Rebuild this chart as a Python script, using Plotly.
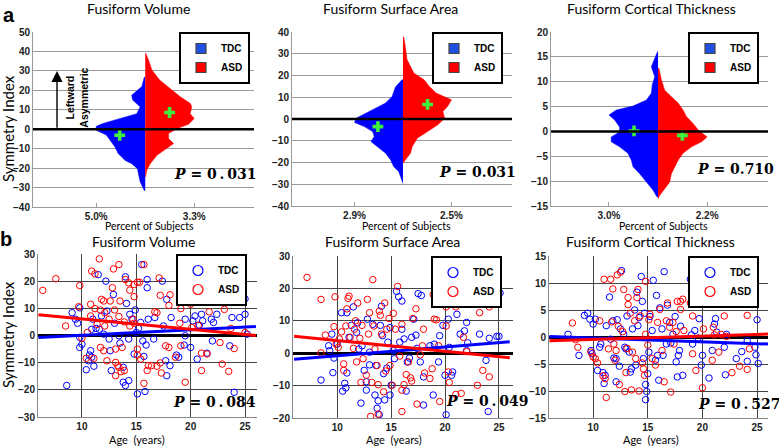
import plotly.graph_objects as go

W, H = 779, 446
BLUE, RED, GREEN = "#0000ff", "#ff0000", "#3cf03c"

####################################################
# panel a : distribution of the symmetry index
titles = ["Fusiform Volume", "Fusiform Surface Area", "Fusiform Cortical Thickness"]
p_top = ["0\u2009.\u2009031", "0.031", "0.710"]
p_bottom = ["0\u2009.\u2009084", "0\u2009.\u2009049", "0\u2009.\u2009527"]

tdc_peak = [5.0, 2.9, 3.0]        # percent of subjects at the widest bin
asd_peak = [3.3, 2.5, 2.2]

# (symmetry index, percent of subjects) along the outline of each half
vol_tdc = [(26.7, 0.1), (22.0, 0.34), (17.5, 1.38), (15.0, 1.28), (11.5, 0.52), (8.0, 0.86),
           (5.5, 2.59), (3.0, 4.31), (1.5, 5.0), (-0.5, 5.0), (-3.0, 3.97), (-6.5, 3.45),
           (-9.0, 3.1), (-12.5, 2.76), (-16.0, 2.07), (-17.7, 1.38), (-20.3, 0.79),
           (-23.0, 0.69), (-27.0, 0.52), (-31.5, 0.1)]
vol_asd = [(39.0, 0.04), (35.6, 0.22), (30.5, 0.45), (25.3, 0.97), (21.5, 1.57), (16.7, 2.36),
           (13.3, 3.03), (11.5, 3.14), (8.0, 3.03), (5.5, 3.3), (2.6, 2.92), (0.3, 2.13),
           (-2.2, 1.57), (-4.8, 1.57), (-7.4, 1.91), (-10.0, 1.46), (-13.4, 0.79),
           (-17.7, 0.34), (-21.0, 0.11), (-24.6, 0.02)]
area_tdc = [(18.0, 0.06), (14.7, 0.45), (10.4, 0.65), (7.3, 1.04), (5.0, 1.63), (2.7, 2.31),
            (0.4, 2.8), (-1.6, 2.9), (-3.5, 2.31), (-5.8, 1.82), (-8.0, 1.72), (-10.4, 1.92),
            (-12.7, 1.53), (-15.7, 1.04), (-18.8, 0.74), (-21.9, 0.55), (-24.2, 0.25),
            (-26.5, 0.16), (-29.6, 0.02)]
area_asd = [(37.7, 0.04), (33.4, 0.12), (27.3, 0.21), (21.1, 0.56), (18.0, 1.09), (15.0, 1.36),
            (11.9, 1.71), (8.8, 2.5), (6.0, 2.32), (3.5, 2.06), (0.4, 2.15), (-2.7, 1.8),
            (-5.8, 1.27), (-8.8, 0.74), (-12.7, 0.48), (-15.7, 0.39), (-18.8, 0.12), (-20.4, 0.04)]
thk_tdc = [(16.1, 0.02), (14.7, 0.2), (13.0, 0.41), (11.0, 0.2), (9.4, 0.35), (7.7, 0.41),
           (6.3, 0.71), (5.1, 1.53), (4.3, 2.55), (3.3, 3.0), (2.3, 2.65), (0.9, 2.35),
           (-0.1, 2.35), (-1.1, 2.86), (-2.1, 2.86), (-3.1, 2.35), (-4.4, 1.84), (-5.8, 1.63),
           (-7.1, 1.53), (-8.5, 1.12), (-10.2, 0.71), (-11.8, 0.31), (-13.2, 0.06)]
thk_asd = [(12.7, 0.04), (10.4, 0.15), (8.3, 0.3), (7.0, 0.6), (5.7, 0.9), (4.3, 1.12),
           (3.0, 1.27), (1.6, 1.57), (0.3, 1.8), (-1.1, 2.2), (-2.1, 1.95), (-3.1, 1.5),
           (-4.4, 1.12), (-5.8, 0.9), (-7.1, 0.75), (-8.5, 0.6), (-10.2, 0.52), (-11.5, 0.3),
           (-12.9, 0.07), (-13.5, 0.01)]

# group means (symmetry index) and where the marker sits (percent)
tdc_mean_si = [-3.1, -3.5, 0.1]
tdc_mean_pct = [2.6, 1.5, 1.47]
asd_mean_si = [8.6, 6.7, -0.8]
asd_mean_pct = [1.64, 1.27, 1.09]

####################################################
# panel b : symmetry index vs age, (age, SI)
vol_tdc_pts = [(8.6, -18.4), (9.1, 8.4), (9.4, 6.0), (9.6, 4.5), (9.8, 10.2), (9.8, -0.7), (9.8, -4.4),
               (10.0, -3.2), (10.4, -12.6), (10.6, -9.3), (10.8, -5.6), (10.9, -8.0), (10.7, -7.2),
               (11.1, -11.3), (10.9, 2.3), (11.0, 6.0), (11.3, 2.6), (11.5, 22.4), (11.6, 2.3),
               (11.8, 7.2), (12.0, 0.5), (12.2, 20.0), (12.3, 9.0), (12.5, -1.3), (12.6, -5.6),
               (12.7, -12.9), (12.9, 15.1), (13.0, 4.5), (13.4, -0.1), (13.5, -2.8), (13.8, -11.7),
               (13.8, -17.2), (14.0, -18.4), (14.1, 11.8), (14.0, 21.6), (14.3, -1.3), (14.3, -16.6),
               (14.4, 7.8), (14.6, 6.0), (14.8, -6.8), (14.9, 9.4), (15.0, 1.1), (15.1, -21.5),
               (15.2, 2.6), (15.4, 4.8), (15.5, 26.1), (15.6, -2.0), (15.7, -7.7), (15.8, -20.6),
               (15.9, -3.5), (16.0, 20.6), (16.0, 17.6), (16.1, 6.0), (16.6, -1.3), (16.7, 6.6),
               (17.4, 20.0), (17.5, 3.5), (17.7, -9.3), (17.8, -14.8), (17.8, 13.3), (18.1, -11.1),
               (18.2, 6.6), (18.7, -7.2), (18.9, -8.0), (19.5, 6.0), (19.5, -0.1), (19.4, -3.5),
               (19.7, 12.7), (20.0, -4.4), (20.2, 5.4), (20.4, 7.2), (20.6, -8.7), (20.8, 3.8),
               (21.0, 7.8), (21.1, 5.4), (21.5, -6.5), (21.9, 6.0), (22.0, -2.0), (22.1, 4.8),
               (22.4, 7.8), (23.6, -3.8), (23.8, 6.6), (24.0, -20.9), (24.5, 6.6), (25.0, 7.8),
               (25.0, 13.5), (25.2, 0.5)]
vol_asd_pts = [(6.4, 16.6), (7.6, 20.9), (8.5, 3.5), (9.8, 18.4), (9.7, 10.6), (10.0, -1.0), (10.9, 23.7),
               (11.2, 22.7), (11.6, 28.2), (10.8, 11.5), (11.2, 9.9), (11.7, 9.4), (11.8, 13.3),
               (12.0, 12.7), (12.1, 8.4), (12.6, 12.7), (12.9, 24.5), (13.4, 26.1), (12.8, 17.6),
               (13.5, 12.7), (14.0, 20.6), (14.3, 19.4), (14.4, 16.7), (14.8, 18.8), (15.1, 19.6),
               (15.3, 19.6), (14.8, 14.3), (15.7, 26.1), (14.7, 6.0), (14.8, 4.5), (14.4, 3.5),
               (13.9, 5.0), (13.4, 7.0), (13.0, 9.4), (12.5, 6.0), (12.1, 3.5), (11.4, 4.1),
               (10.8, 7.2), (10.5, 1.1), (10.4, -8.4), (11.1, -8.4), (11.7, -4.4), (12.0, -5.6),
               (12.3, -9.3), (13.1, -9.9), (13.3, -11.1), (13.4, -11.7), (13.1, -14.8), (13.6, -13.3),
               (13.9, -12.9), (13.1, -5.0), (13.7, -4.4), (15.1, -5.0), (15.4, -8.7), (15.1, -7.2),
               (15.7, -17.6), (16.0, -12.9), (16.1, -11.1), (16.4, -11.1), (16.9, -11.3), (17.2, -10.1),
               (17.3, -13.8), (17.7, -3.8), (18.0, -4.4), (16.9, 8.4), (16.7, 8.7), (17.2, 14.8),
               (17.1, 21.2), (18.0, 11.1), (18.1, 15.0), (18.6, -8.0), (19.1, -3.8), (19.0, 4.5),
               (19.1, 9.9), (19.2, 13.9), (19.1, 27.6), (19.5, -17.2), (20.0, 11.5), (20.1, 2.9),
               (20.7, 3.8), (21.0, -6.5), (21.0, -12.9), (21.2, 13.3), (21.5, -6.8), (21.7, 8.7),
               (22.0, 12.7), (22.7, -2.6), (22.9, -10.5), (23.1, 9.6), (23.5, -13.2), (24.0, -4.8),
               (24.0, 12.7), (23.7, 2.6), (25.0, 1.1)]
area_tdc_pts = [(8.5, -8.3), (9.2, 2.3), (9.3, 0.8), (9.5, 5.9), (9.6, -6.0), (9.7, -1.5), (10.0, 2.8),
                (10.4, 12.5), (10.5, -11.7), (10.7, -9.3), (10.8, -10.7), (10.9, 12.5), (10.9, -6.1),
                (11.1, 4.9), (11.3, 8.6), (11.5, 14.3), (11.8, 6.4), (11.9, 9.4), (12.0, 1.3),
                (12.2, -15.4), (12.3, 2.3), (12.5, -5.3), (12.7, -8.8), (12.7, -11.4), (12.8, 10.5),
                (13.0, -3.6), (13.0, 0.3), (13.3, 8.9), (13.5, -12.9), (13.6, -3.8), (13.7, -17.0),
                (13.8, -14.7), (13.9, -19.0), (14.0, 8.6), (14.1, 14.5), (14.2, 5.4), (14.3, -6.3),
                (14.4, -14.4), (14.6, -4.6), (14.7, 3.4), (14.9, 7.9), (14.9, -12.9), (15.0, -9.9),
                (15.2, 0.8), (15.3, -1.7), (15.5, 19.1), (15.7, 17.4), (15.8, 3.4), (16.0, 16.1),
                (16.0, 7.4), (16.2, 4.4), (16.4, -11.7), (16.5, -2.7), (16.7, -1.5), (16.9, 4.9),
                (17.1, 10.5), (17.3, 5.6), (17.4, 1.5), (17.5, 18.4), (17.7, -2.7), (17.8, 17.8),
                (18.0, -7.3), (18.0, -16.0), (18.6, 2.3), (18.9, -12.9), (19.0, 2.8), (19.4, -2.7),
                (19.5, 5.4), (19.8, 8.6), (20.0, -6.8), (20.1, -19.0), (20.3, 10.5), (20.4, 1.8),
                (20.6, -6.8), (20.7, -5.8), (21.1, 12.0), (21.4, 5.9), (21.8, 6.9), (22.0, 9.5),
                (22.1, 3.2), (22.0, 0.8), (23.2, 5.9), (23.8, -2.2), (24.0, -18.0), (24.1, 4.6),
                (24.8, 5.2), (25.0, 5.2), (25.1, 18.6)]
area_asd_pts = [(7.2, 23.4), (8.5, 16.6), (8.5, 0.1), (8.9, 5.6), (9.7, 8.2), (9.8, 17.4), (9.9, 2.8),
                (10.1, 1.8), (10.2, 4.4), (10.4, 6.6), (10.6, -3.3), (10.6, -5.3), (10.8, 8.4),
                (11.0, 16.9), (11.1, 17.6), (10.9, 13.7), (11.2, 4.9), (11.5, 1.5), (11.6, 7.4),
                (11.7, 10.0), (11.8, -2.7), (11.9, 15.5), (12.1, 4.6), (12.2, -9.0), (12.3, 8.6),
                (12.4, -1.7), (12.7, -6.8), (12.8, 16.6), (12.9, 5.9), (13.0, 12.5), (13.1, -19.5),
                (13.2, -9.0), (13.3, 22.7), (13.4, 8.4), (13.5, 1.3), (13.7, -3.8), (13.8, -9.7),
                (13.8, -18.8), (13.9, 13.0), (14.0, 11.7), (14.1, 5.9), (14.3, -11.9), (14.4, 15.5),
                (14.5, -5.5), (14.6, 7.4), (14.8, 10.7), (14.9, -3.8), (15.1, -9.9), (15.2, 12.3),
                (15.4, 7.4), (15.6, 20.6), (15.8, -0.9), (16.0, -18.0), (16.0, 8.9), (16.0, -11.4),
                (16.2, -9.7), (16.4, -6.6), (16.6, -2.7), (16.8, -7.6), (16.9, -8.6), (17.0, 10.7),
                (17.3, 13.7), (17.4, -15.7), (17.7, -0.5), (17.9, 2.3), (18.0, 7.4), (18.1, -6.1),
                (18.6, -7.8), (18.8, -4.8), (18.9, 18.1), (19.0, 10.5), (19.2, 10.3), (19.5, -14.9),
                (19.4, 2.3), (20.1, 14.3), (20.1, 8.4), (20.3, -5.8), (20.4, -9.0), (21.0, 14.3),
                (21.0, -12.7), (21.5, -12.4), (21.7, 4.9), (22.0, 0.5), (23.0, -9.9), (23.2, 12.5),
                (23.5, -5.3), (24.1, 14.3), (24.1, -7.3)]
thk_tdc_pts = [(7.7, 0.5), (8.7, -3.4), (9.2, 4.0), (9.5, 4.4), (9.7, 3.3), (9.8, -2.5), (9.9, -3.1),
               (10.0, 2.4), (10.2, 3.3), (10.4, -6.2), (10.6, -1.9), (10.7, -1.3), (10.9, -6.6),
               (11.0, -8.6), (11.1, -7.1), (11.2, 2.1), (11.5, 7.4), (11.6, -0.4), (11.8, 3.0),
               (11.9, -3.9), (12.1, -4.0), (12.1, -8.3), (12.2, 3.2), (12.4, -5.4), (12.5, 1.5),
               (12.6, 12.3), (12.8, 0.5), (12.9, -1.9), (13.0, -2.2), (13.1, 3.9), (13.3, -2.8),
               (13.4, -6.5), (13.5, -5.9), (13.6, 1.5), (13.8, 5.0), (13.9, -5.2), (14.0, 8.3),
               (14.1, 2.1), (14.2, 3.6), (14.4, 11.2), (14.5, 6.6), (14.6, -4.0), (14.7, 4.4),
               (14.8, -8.8), (14.8, -11.6), (14.9, -10.1), (15.0, -6.8), (15.1, -2.8), (15.2, 3.8),
               (15.4, 1.2), (15.5, 10.5), (15.7, -4.3), (15.8, 7.7), (15.9, -3.4), (16.0, -8.0),
               (16.1, 5.4), (16.3, 1.5), (16.4, -3.4), (16.5, 12.1), (16.7, -1.3), (16.8, 5.9),
               (17.0, 2.7), (17.1, -1.1), (17.3, 0.5), (17.5, 3.8), (17.6, -4.6), (17.7, -7.4),
               (17.8, -3.4), (17.9, -2.5), (18.0, 2.0), (18.2, -7.1), (18.9, 10.7), (19.0, 0.4),
               (19.1, -1.3), (19.3, 1.2), (19.6, -0.2), (19.7, 3.4), (19.9, -5.2), (20.0, -3.4),
               (20.4, 7.1), (20.6, -7.6), (20.9, -2.5), (21.1, 2.4), (21.2, 3.4), (21.3, 0.9),
               (22.0, -1.9), (22.1, -7.0), (22.2, 0.5), (23.1, -4.0), (23.6, -2.7), (24.1, -0.7),
               (24.1, -4.5), (24.8, -1.9), (25.0, 3.2), (24.9, -3.3), (25.1, -4.9)]
thk_asd_pts = [(8.1, 2.6), (8.4, -0.5), (8.6, -1.9), (9.8, -2.8), (10.0, -3.7), (10.2, -4.0), (10.4, -4.8),
               (10.6, 3.0), (10.9, -7.2), (11.0, 10.7), (11.2, -11.2), (11.1, -7.7), (11.4, -2.2),
               (11.6, 10.7), (11.7, 2.8), (11.8, 8.9), (11.9, -1.3), (12.0, -4.3), (12.1, -2.5),
               (12.2, 11.5), (12.3, 2.0), (12.4, -8.8), (12.5, 12.0), (12.7, 1.0), (12.8, 8.8),
               (12.9, -10.1), (13.0, -6.6), (13.1, -2.1), (13.2, 7.3), (13.2, 6.0), (13.4, 4.4),
               (13.5, -9.8), (13.6, -2.8), (13.8, 3.0), (13.9, -4.0), (14.0, 7.3), (14.1, 8.8),
               (14.2, -10.0), (14.3, 3.9), (14.5, -4.8), (14.6, -5.9), (14.7, -7.1), (14.8, 10.3),
               (14.8, 0.5), (15.0, -1.5), (15.1, 3.2), (15.2, 4.2), (15.4, -4.0), (15.7, -5.2),
               (15.9, 2.7), (16.1, 5.1), (16.3, -2.5), (16.5, -8.3), (16.7, 3.0), (16.8, 6.3),
               (17.0, 1.8), (17.1, -10.2), (17.3, 2.7), (17.4, -1.3), (17.6, 1.0), (17.7, 6.6),
               (18.0, 6.6), (18.0, 5.1), (18.2, 7.0), (18.3, 1.2), (18.9, 6.3), (19.0, 8.5),
               (19.1, 3.9), (19.1, -3.1), (19.4, -6.2), (20.0, 7.3), (20.0, -9.4), (20.1, 1.5),
               (20.9, -4.3), (21.0, 1.8), (21.1, 0.4), (21.5, -2.8), (21.7, 0.5), (22.0, 3.9),
               (22.2, 0.1), (22.7, -6.6), (23.4, -5.4), (24.1, 4.0), (24.1, -6.0), (24.3, -2.2)]

# regression lines, SI at the two ends of the age axis
fit_age = [6, 26]
tdc_fit = [[-0.7, 3.3], [-1.85, 3.5], [0.1, -1.3]]
asd_fit = [[7.6, 0.0], [5.2, -1.4], [-0.7, 0.55]]

dists = [(vol_tdc, vol_asd), (area_tdc, area_asd), (thk_tdc, thk_asd)]
points = [(vol_tdc_pts, vol_asd_pts), (area_tdc_pts, area_asd_pts), (thk_tdc_pts, thk_asd_pts)]

top_yrange = [[-40, 50], [-40, 40], [-15, 20]]
top_dtick = [10, 10, 5]
top_xrange = [[-2.29, 2.22], [-2.29, 2.25], [-2.18, 2.24]]
bot_yrange = [[-30, 30], [-20, 30], [-15, 15]]
bot_dtick = [10, 10, 5]
bot_xrange = [[5.96, 26.1], [5.9, 26.3], [5.96, 26.0]]

# plot boxes in pixels: left, right, top, bottom
top_box = [(33, 254, 32, 207), (292, 512, 32, 206), (551, 768, 32, 206)]
bot_box = [(38, 257, 254, 417), (293, 513, 256, 418), (549, 768, 256, 418)]
top_leg_right = [250, 503, 759]
bot_leg_right = [247, 502, 759]


def fx(px):
    return px / W


def fy(py):
    return 1 - py / H


def sfx(n):
    return "" if n == 1 else str(n)


TICKFONT = dict(family="Liberation Sans", size=10, color="#222", weight="bold")
LABELFONT = dict(family="Lato", size=14, color="black")
LEGFONT = dict(family="Liberation Sans", size=10, color="black", weight="bold")

fig = go.Figure()
layout = {}


def legend_entry(name, symbol, color, xr, yr, lg):
    # marker-only trace that just carries the legend item
    return go.Scatter(x=[None], y=[None], mode="markers", name=name,
                      marker=dict(symbol=symbol, size=10, color=color, line=dict(width=1.2)),
                      xaxis=xr, yaxis=yr, legend=lg)


def legend_box(right_px, top_px):
    return dict(x=fx(right_px), y=fy(top_px), xanchor="right", yanchor="top",
                bgcolor="white", bordercolor="black", borderwidth=2, font=LEGFONT,
                itemwidth=30, tracegroupgap=0, itemsizing="trace")


for i in range(3):
    n = i + 1
    xr, yr, lg = "x" + sfx(n), "y" + sfx(n), "legend" + sfx(n)
    tdc, asd = dists[i]
    t_si = [s for s, _ in tdc]
    t_x = [-p / tdc_peak[i] for _, p in tdc]
    a_si = [s for s, _ in asd]
    a_x = [p / asd_peak[i] for _, p in asd]
    fig.add_trace(go.Scatter(x=[0] + t_x + [0], y=[t_si[0]] + t_si + [t_si[-1]],
                             fill="toself", fillcolor=BLUE, mode="lines",
                             line=dict(color=BLUE, width=0.5), showlegend=False,
                             xaxis=xr, yaxis=yr))
    fig.add_trace(go.Scatter(x=[0] + a_x + [0], y=[a_si[0]] + a_si + [a_si[-1]],
                             fill="toself", fillcolor=RED, mode="lines",
                             line=dict(color=RED, width=0.5), showlegend=False,
                             xaxis=xr, yaxis=yr))
    fig.add_trace(go.Scatter(x=[-tdc_mean_pct[i] / tdc_peak[i], asd_mean_pct[i] / asd_peak[i]],
                             y=[tdc_mean_si[i], asd_mean_si[i]], mode="markers",
                             marker=dict(symbol="cross", size=9, color=GREEN),
                             showlegend=False, xaxis=xr, yaxis=yr))
    fig.add_trace(legend_entry("TDC", "square", "#1f50e0", xr, yr, lg))
    fig.add_trace(legend_entry("ASD", "square", RED, xr, yr, lg))
    l, r, t, b = top_box[i]
    layout["xaxis" + sfx(n)] = dict(domain=[fx(l), fx(r)], anchor=yr, range=top_xrange[i],
                                    tickvals=[-1, 1],
                                    ticktext=[f"{tdc_peak[i]:.1f}%", f"{asd_peak[i]:.1f}%"],
                                    showgrid=False, zeroline=False, showline=True,
                                    linecolor="#999", ticks="inside", ticklen=4,
                                    tickcolor="#999", tickfont=TICKFONT, fixedrange=True,
                                    automargin=False)
    layout["yaxis" + sfx(n)] = dict(domain=[fy(b), fy(t)], anchor=xr, range=top_yrange[i],
                                    dtick=top_dtick[i], showgrid=True, gridcolor="#9a9a9a",
                                    zeroline=False, showline=True, linecolor="#999",
                                    tickfont=TICKFONT, fixedrange=True, automargin=False)
    layout[lg] = legend_box(top_leg_right[i], t)

for i in range(3):
    n = i + 4
    xr, yr, lg = "x" + sfx(n), "y" + sfx(n), "legend" + sfx(n)
    tdc, asd = points[i]
    fig.add_trace(go.Scatter(x=[a for a, _ in tdc], y=[s for _, s in tdc], mode="markers",
                             marker=dict(symbol="circle-open", size=6.5, color=BLUE,
                                         line=dict(width=1)),
                             showlegend=False, xaxis=xr, yaxis=yr))
    fig.add_trace(go.Scatter(x=[a for a, _ in asd], y=[s for _, s in asd], mode="markers",
                             marker=dict(symbol="circle-open", size=6.5, color=RED,
                                         line=dict(width=1)),
                             showlegend=False, xaxis=xr, yaxis=yr))
    fig.add_trace(go.Scatter(x=fit_age, y=tdc_fit[i], mode="lines",
                             line=dict(color=BLUE, width=3), showlegend=False,
                             xaxis=xr, yaxis=yr))
    fig.add_trace(go.Scatter(x=fit_age, y=asd_fit[i], mode="lines",
                             line=dict(color=RED, width=3), showlegend=False,
                             xaxis=xr, yaxis=yr))
    fig.add_trace(legend_entry("TDC", "circle-open", BLUE, xr, yr, lg))
    fig.add_trace(legend_entry("ASD", "circle-open", RED, xr, yr, lg))
    l, r, t, b = bot_box[i]
    layout["xaxis" + sfx(n)] = dict(domain=[fx(l), fx(r)], anchor=yr, range=bot_xrange[i],
                                    tickvals=[10, 15, 20, 25], showgrid=True,
                                    gridcolor="#444", zeroline=False, showline=True,
                                    linecolor="#888", tickfont=TICKFONT, fixedrange=True,
                                    automargin=False)
    layout["yaxis" + sfx(n)] = dict(domain=[fy(b), fy(t)], anchor=xr, range=bot_yrange[i],
                                    dtick=bot_dtick[i], showgrid=True, gridcolor="#444",
                                    zeroline=True, zerolinecolor="black", zerolinewidth=2.5,
                                    showline=True, linecolor="#888",
                                    tickfont=TICKFONT, fixedrange=True, automargin=False)
    layout[lg] = legend_box(bot_leg_right[i], t)

fig.update_layout(**layout)

# thick zero line on top of the distributions
for n in (1, 2, 3):
    fig.add_shape(type="line", xref="x" + sfx(n) + " domain", yref="y" + sfx(n),
                  x0=0, x1=1, y0=0, y1=0, layer="above",
                  line=dict(color="black", width=2.5))

# leftward asymmetric arrow in first panel
fig.add_annotation(x=-1.8, y=30, ax=-1.8, ay=0, xref="x", yref="y", axref="x", ayref="y",
                   text="", showarrow=True, arrowhead=2, arrowsize=1.6, arrowwidth=1.4,
                   arrowcolor="black")
fig.add_annotation(x=-1.38, y=16, xref="x", yref="y", text="Leftward<br>Asymmetric",
                   textangle=-90, showarrow=False, xanchor="center", yanchor="middle",
                   font=dict(family="Liberation Sans", size=10.5, color="black", weight="bold"))


def label(px_, py_, text, font, angle=0):
    fig.add_annotation(x=fx(px_), y=fy(py_), xref="paper", yref="paper", text=text,
                       showarrow=False, xanchor="center", yanchor="middle",
                       textangle=angle, font=font)


top_title_x = [138, 391, 651]
bot_title_x = [143, 392, 650]
pct_label_x = [149, 406, 663]
age_label_x = [137, 394, 651]
p_top_xy = [(215, 174), (477, 172), (735, 169)]
p_bot_xy = [(215, 402), (487, 401), (739, 404)]
PFONT = dict(family="DejaVu Serif", size=14, color="black")

for i in range(3):
    label(top_title_x[i], 8, titles[i], LABELFONT)
    label(bot_title_x[i], 241, titles[i], LABELFONT)
    label(pct_label_x[i], 226, "Percent of Subjects", dict(family="Lato", size=10.5, color="black"))
    label(age_label_x[i], 439, "Age\u00a0 (years)", dict(family="Lato", size=11, color="black"))
    label(*p_top_xy[i], f"<b><i>P</i> = {p_top[i]}</b>", PFONT)
    label(*p_bot_xy[i], f"<b><i>P</i> = {p_bottom[i]}</b>", PFONT)

for ty in (129, 335):
    label(8, ty, "Symmetry Index", dict(family="Lato", size=15, color="black"), angle=-90)

label(9, 15, "<b>a</b>", dict(family="Liberation Sans", size=20, color="black"))
label(6, 239, "<b>b</b>", dict(family="Liberation Sans", size=20, color="black"))

fig.update_layout(width=W, height=H, margin=dict(l=0, r=0, t=0, b=0),
                  paper_bgcolor="white", plot_bgcolor="white", showlegend=True)

# the page keeps the figure flush with the window corner
fig.write_html("out.html", config={"displayModeBar": False},
               post_script="document.body.style.margin='0px';")
